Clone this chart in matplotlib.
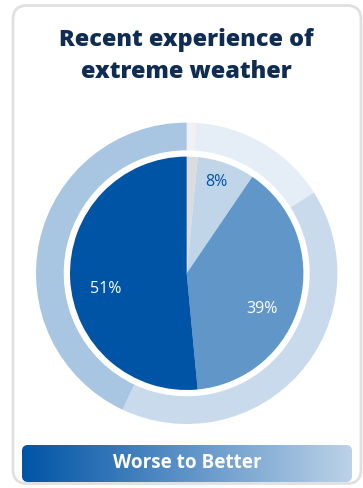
import numpy as np
import matplotlib
matplotlib.use("Agg")
import matplotlib.pyplot as plt
from matplotlib.patches import FancyBboxPatch

# inner pie: "no answer" sliver, then Better / Same / Worse
inner_vals = [1.5, 8, 39, 51.5]
inner_labels = ["", "8%", "39%", "51%"]
inner_colors = ["#dcdcdc", "#c0d5e8", "#6196c9", "#0054a6"]
label_colors = ["#0054a6", "#0054a6", "white", "white"]
label_dist = [0, 0.82, 0.71, 0.71]
label_shift = [0, 2, -11, 8]   # degrees, nudges label off the wedge middle

# outer ring
outer_vals = [1, 15, 41, 43]
outer_colors = ["#f1f1f1", "#e5eef7", "#c9daec", "#a8c5e1"]

W, H = 363, 488
fig = plt.figure(figsize=(W / 100, H / 100), dpi=100)

# background axes in pixel coordinates
bg = fig.add_axes([0, 0, 1, 1])
bg.axis("off")

card = FancyBboxPatch((13, 5.5), 348, 478, boxstyle="round,pad=0,rounding_size=14",
                      fc="white", ec="#e0e0e0", lw=2)
bg.add_patch(card)

bg.text(186.5, 40, "Recent experience of", ha="center", va="center",
        fontsize=16.8, fontweight="heavy", color="#0f2d52", family="Open Sans")
bg.text(186.5, 72, "extreme weather", ha="center", va="center",
        fontsize=16.8, fontweight="heavy", color="#0f2d52", family="Open Sans")

# gradient bar
bar = FancyBboxPatch((22, 445), 330, 37, boxstyle="round,pad=0,rounding_size=6",
                     fc="none", ec="none")
bg.add_patch(bar)
grad = np.linspace(0, 1, 256).reshape(1, -1)
cmap = matplotlib.colors.LinearSegmentedColormap.from_list("wb", ["#0054a6", "#bcd2e8"])
im = bg.imshow(grad, cmap=cmap, extent=(22, 352, 482, 445), aspect="auto", zorder=2)
im.set_clip_path(bar)
bg.set_xlim(0, W)
bg.set_ylim(H, 0)
bg.text(187, 463, "Worse to Better", ha="center", va="center", fontsize=13.6,
        fontweight="bold", color="white", family="Open Sans", zorder=3)

# pie axes
cx, cy, R = 186.7, 273.3, 150.7
ax = fig.add_axes([(cx - R) / W, (H - cy - R) / H, 2 * R / W, 2 * R / H])
ax.pie(outer_vals, colors=outer_colors, radius=1, startangle=90, counterclock=False,
       wedgeprops=dict(width=(R - 123) / R, linewidth=0))
r_in = 116.7 / R
wedges, _ = ax.pie(inner_vals, colors=inner_colors, radius=r_in, startangle=90,
                   counterclock=False, wedgeprops=dict(linewidth=0))
for w, lab, col, d, s in zip(wedges, inner_labels, label_colors, label_dist, label_shift):
    if not lab:
        continue
    ang = np.deg2rad((w.theta1 + w.theta2) / 2 + s)
    ax.text(d * r_in * np.cos(ang), d * r_in * np.sin(ang), lab, ha="center", va="center",
            fontsize=11.5, color=col, family="Open Sans")
ax.set_xlim(-1, 1)
ax.set_ylim(-1, 1)
ax.set_aspect("equal")
ax.axis("off")

fig.savefig("out.png", dpi=100)
